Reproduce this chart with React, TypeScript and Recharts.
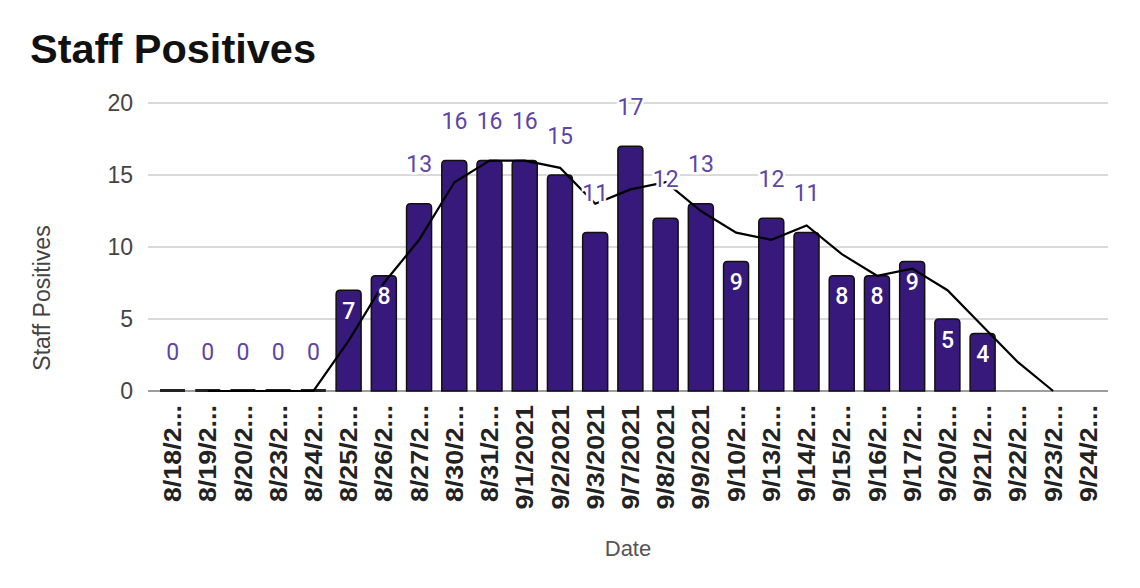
import React from 'react';
import { ComposedChart, Bar, Line, XAxis, YAxis, CartesianGrid, LabelList } from 'recharts';

const dates = [
  '8/18/2021', '8/19/2021', '8/20/2021', '8/23/2021', '8/24/2021', '8/25/2021', '8/26/2021',
  '8/27/2021', '8/30/2021', '8/31/2021', '9/1/2021', '9/2/2021', '9/3/2021', '9/7/2021',
  '9/8/2021', '9/9/2021', '9/10/2021', '9/13/2021', '9/14/2021', '9/15/2021', '9/16/2021',
  '9/17/2021', '9/20/2021', '9/21/2021', '9/22/2021', '9/23/2021', '9/24/2021',
];
const positives: (number | null)[] = [
  0, 0, 0, 0, 0, 7, 8, 13, 16, 16, 16, 15, 11, 17, 12, 13, 9, 12, 11, 8, 8, 9, 5, 4, null, null, null,
];
const trend: (number | null)[] = [
  null, 0, 0, 0, 0, 3.5, 7.5, 10.5, 14.5, 16, 16, 15.5, 13, 14, 14.5, 12.5, 11, 10.5, 11.5, 9.5, 8, 8.5, 7, 4.5, 2, 0, null,
];
const yTicks = [0, 5, 10, 15, 20];

const data = dates.map((d, i) => ({ date: d, positives: positives[i], trend: trend[i] }));

const BAR_FILL = '#36197a';
const LABEL_PURPLE = '#5e45a8';
const SANS = '"Liberation Sans", Arial, sans-serif';

const BarShape = (props: any) => {
  const { x, y, width, height, payload } = props;
  if (payload == null || payload.positives == null) return null;
  if (!height || Math.abs(height) < 1) {
    return <line x1={x} x2={x + width} y1={y - 0.5} y2={y - 0.5} stroke="#222" strokeWidth={3} />;
  }
  const r = Math.min(4, width / 2, height);
  const d = `M${x},${y + height} L${x},${y + r} Q${x},${y} ${x + r},${y} L${x + width - r},${y} Q${x + width},${y} ${x + width},${y + r} L${x + width},${y + height} Z`;
  return <path d={d} fill={BAR_FILL} stroke="#111" strokeWidth={1.5} />;
};

const renderValueLabel = (props: any) => {
  const { x, y, value } = props;
  if (value == null || x == null || y == null) return null;
  const inside = value > 0 && value < 10;
  if (inside) {
    return (
      <text
        x={x}
        y={y + 21}
        textAnchor="middle"
        dominantBaseline="central"
        fontFamily="Roboto, sans-serif"
        fontSize={23}
        fontWeight={500}
        fill="#ffffff"
        stroke={BAR_FILL}
        strokeWidth={3}
        paintOrder="stroke"
      >
        {value}
      </text>
    );
  }
  return (
    <text
      x={x}
      y={y - 39}
      textAnchor="middle"
      dominantBaseline="central"
      fontFamily="Roboto, sans-serif"
      fontSize={23}
      fill={LABEL_PURPLE}
      stroke="#ffffff"
      strokeWidth={5}
      paintOrder="stroke"
    >
      {value}
    </text>
  );
};

const XTick = (props: any) => {
  const { x, y, payload } = props;
  const s: string = String(payload.value);
  const t = s.length > 8 ? s.slice(0, 6) + '...' : s;
  return (
    <text
      x={0}
      y={0}
      transform={`translate(${x} ${y}) rotate(-90) scale(1.12 1)`}
      textAnchor="end"
      dominantBaseline="central"
      fontFamily={SANS}
      fontSize={24}
      fontWeight="bold"
      fill="#222"
    >
      {t}
    </text>
  );
};

const GridLine = (props: any) => {
  const { x1, x2, y1, y2, index } = props;
  const isBase = index === 0;
  return (
    <line
      x1={x1}
      x2={x2}
      y1={y1}
      y2={y2}
      stroke={isBase ? '#9e9e9e' : '#cccccc'}
      strokeWidth={isBase ? 2 : 1.5}
    />
  );
};

export default function App() {
  return (
    <div style={{ position: 'absolute', left: 0, top: 0, width: 1140, height: 588, background: '#fff' }}>
      <ComposedChart
        width={1140}
        height={588}
        data={data}
        margin={{ top: 103, right: 32, bottom: 0, left: 0 }}
      >
        <CartesianGrid vertical={false} horizontal={GridLine} />
        <XAxis
          dataKey="date"
          interval={0}
          height={197}
          padding={{ left: 7, right: 2 }}
          tickLine={false}
          tickSize={0}
          tickMargin={14}
          axisLine={false}
          tick={<XTick />}
          label={{ value: 'Date', position: 'insideBottom', offset: 32, fill: '#555', fontSize: 22, fontFamily: SANS }}
        />
        <YAxis
          width={148}
          domain={[0, 20]}
          ticks={yTicks}
          interval={0}
          axisLine={false}
          tickLine={false}
          tickSize={0}
          tickMargin={15}
          tick={{ fill: '#444', fontSize: 23, fontFamily: SANS }}
        />
        <Bar dataKey="positives" barSize={25} shape={BarShape} isAnimationActive={false} />
        <Line
          type="linear"
          dataKey="trend"
          stroke="#000"
          strokeWidth={2.2}
          dot={false}
          activeDot={false}
          isAnimationActive={false}
        />
        <Line
          type="linear"
          dataKey="positives"
          stroke="none"
          strokeWidth={0}
          dot={false}
          activeDot={false}
          legendType="none"
          isAnimationActive={false}
        >
          <LabelList dataKey="positives" content={renderValueLabel} />
        </Line>
      </ComposedChart>
      <svg
        width={1140}
        height={588}
        style={{ position: 'absolute', left: 0, top: 0, pointerEvents: 'none' }}
      >
        <text x={30} y={63} fontFamily={SANS} fontSize={41.5} fontWeight="bold" fill="#111">
          Staff Positives
        </text>
        <text
          x={42}
          y={298}
          transform="rotate(-90 42 298)"
          textAnchor="middle"
          dominantBaseline="central"
          fontFamily={SANS}
          fontSize={23}
          fill="#444"
        >
          Staff Positives
        </text>
      </svg>
    </div>
  );
}
